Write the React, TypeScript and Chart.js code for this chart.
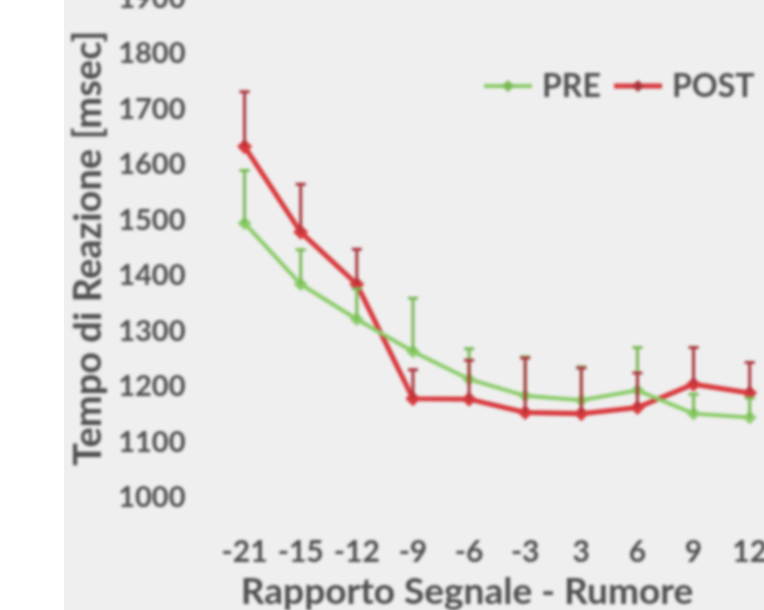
import React, { useEffect, useRef } from "react";
import { Chart, registerables } from "chart.js";
Chart.register(...registerables);

const categories = ["-21", "-15", "-12", "-9", "-6", "-3", "3", "6", "9", "12"];
const preValues = [1495, 1385, 1322, 1264, 1214, 1184, 1176, 1194, 1152, 1145];
const preErrors = [95, 62, 55, 96, 55, 70, 60, 77, 35, 35];
const postValues = [1633, 1479, 1385, 1179, 1178, 1154, 1152, 1163, 1205, 1189];
const postErrors = [99, 86, 63, 52, 70, 98, 82, 62, 66, 55];
const yMin = 1000;
const yMax = 1900;
const yStep = 100;
const xTitle = "Rapporto Segnale - Rumore";
const yTitle = "Tempo di Reazione [msec]";

const FONT = "Lato, 'Open Sans', sans-serif";
const TEXT = "#4f4f4f";
const TOP_SHIFT = 50;

const errorBarPlugin = {
  id: "errorBars",
  afterDatasetsDraw(chart: any) {
    const ctx = chart.ctx;
    const yScale = chart.scales.y;
    chart.data.datasets.forEach((ds: any, i: number) => {
      const meta = chart.getDatasetMeta(i);
      meta.data.forEach((pt: any, j: number) => {
        const yTop = yScale.getPixelForValue(ds.data[j] + ds.errorUp[j]);
        ctx.save();
        ctx.strokeStyle = ds.errorColor;
        ctx.lineWidth = 3;
        ctx.beginPath();
        ctx.moveTo(pt.x, pt.y);
        ctx.lineTo(pt.x, yTop);
        ctx.moveTo(pt.x - 5, yTop);
        ctx.lineTo(pt.x + 5, yTop);
        ctx.stroke();
        ctx.restore();
      });
    });
  },
};

const legendPlugin = {
  id: "manualLegend",
  afterDraw(chart: any) {
    const ctx = chart.ctx;
    const y = 86 + TOP_SHIFT;
    const starts = [420, 550];
    chart.data.datasets.forEach((ds: any, i: number) => {
      const x0 = starts[i];
      ctx.save();
      ctx.strokeStyle = ds.borderColor;
      ctx.lineWidth = ds.borderWidth;
      ctx.beginPath();
      ctx.moveTo(x0, y);
      ctx.lineTo(x0 + 48, y);
      ctx.stroke();
      ctx.fillStyle = ds.errorColor;
      ctx.beginPath();
      ctx.moveTo(x0 + 24, y - 6);
      ctx.lineTo(x0 + 30, y);
      ctx.lineTo(x0 + 24, y + 6);
      ctx.lineTo(x0 + 18, y);
      ctx.closePath();
      ctx.fill();
      ctx.fillStyle = TEXT;
      ctx.font = `bold 32px ${FONT}`;
      ctx.textBaseline = "middle";
      ctx.textAlign = "left";
      ctx.fillText(ds.label, x0 + 58, y + 1);
      ctx.restore();
    });
  },
};

const xTitlePlugin = {
  id: "xTitle",
  afterDraw(chart: any) {
    const ctx = chart.ctx;
    ctx.save();
    ctx.fillStyle = TEXT;
    ctx.font = `bold 37px ${FONT}`;
    ctx.textAlign = "center";
    ctx.textBaseline = "middle";
    ctx.fillText(xTitle, 403, 592 + TOP_SHIFT);
    ctx.restore();
  },
};

export default function App() {
  const ref = useRef<HTMLCanvasElement | null>(null);
  useEffect(() => {
    if (!ref.current) return;
    const chart = new Chart(ref.current, {
      type: "line",
      data: {
        labels: categories,
        datasets: [
          {
            label: "PRE",
            data: preValues,
            errorUp: preErrors,
            errorColor: "#78b855",
            borderColor: "#8acb68",
            backgroundColor: "#78b855",
            borderWidth: 4,
            pointStyle: "rectRot",
            pointRadius: 4,
            tension: 0,
          } as any,
          {
            label: "POST",
            data: postValues,
            errorUp: postErrors,
            errorColor: "#a8343a",
            borderColor: "#d8383c",
            backgroundColor: "#b8343a",
            borderWidth: 5,
            pointStyle: "rectRot",
            pointRadius: 4,
            tension: 0,
          } as any,
        ],
      },
      options: {
        responsive: false,
        animation: false,
        layout: { padding: { left: 0, right: 18, top: 20, bottom: 0 } },
        plugins: { legend: { display: false }, tooltip: { enabled: false } },
        scales: {
          x: {
            offset: true,
            grid: { display: false, drawTicks: false },
            border: { display: false },
            ticks: {
              autoSkip: false,
              maxRotation: 0,
              padding: 36,
              color: TEXT,
              font: { family: FONT, size: 30, weight: "bold" },
            },
            afterFit: (s: any) => {
              s.height = 112;
            },
          },
          y: {
            min: yMin,
            max: yMax,
            grid: { display: false, drawTicks: false },
            border: { display: false },
            ticks: {
              stepSize: yStep,
              padding: 31,
              color: TEXT,
              font: { family: FONT, size: 29, weight: "bold" },
              callback: (v: any) => String(v),
            },
            title: {
              display: true,
              text: yTitle,
              color: TEXT,
              padding: { top: 2, bottom: 2 },
              font: { family: FONT, size: 38, weight: "bold" },
            },
            afterFit: (s: any) => {
              s.width = 152.5;
            },
          },
        },
      } as any,
      plugins: [errorBarPlugin, legendPlugin, xTitlePlugin],
    });
    return () => chart.destroy();
  }, []);

  return (
    <div
      style={{
        position: "fixed",
        left: 0,
        top: 0,
        width: 764,
        height: 610,
        background: "#ffffff",
        overflow: "hidden",
      }}
    >
      <div
        style={{
          position: "absolute",
          left: 64,
          top: 0,
          right: 0,
          bottom: 0,
          background: "#efefef",
        }}
      />
      <canvas
        ref={ref}
        width={740}
        height={610 + TOP_SHIFT}
        style={{
          position: "absolute",
          left: 64,
          top: -TOP_SHIFT,
          width: 740,
          height: 610 + TOP_SHIFT,
          filter: "blur(1.5px)",
        }}
      />
    </div>
  );
}
